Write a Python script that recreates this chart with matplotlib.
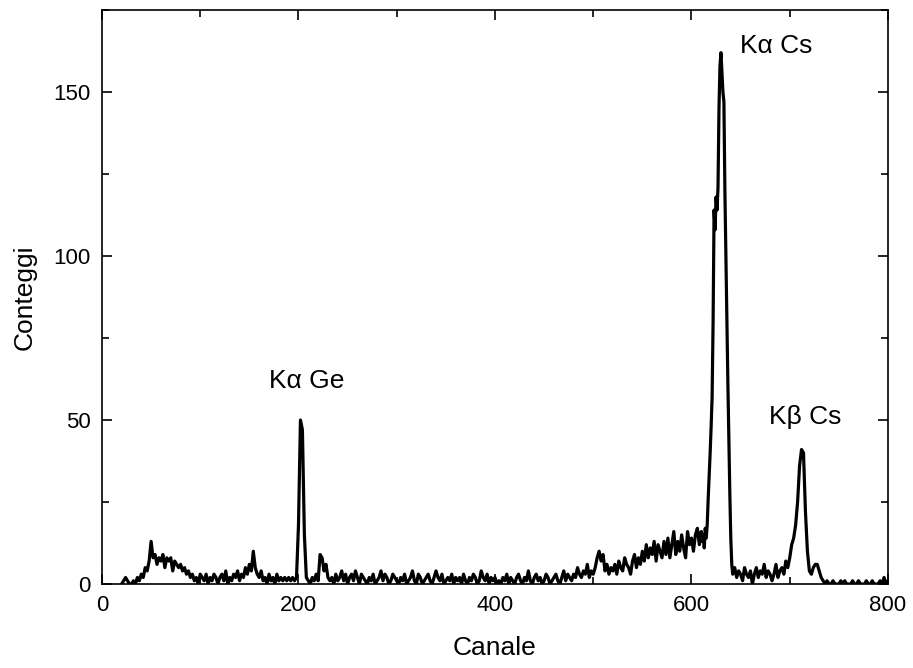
import numpy as np
import matplotlib
matplotlib.use("Agg")
import matplotlib.pyplot as plt
from matplotlib.ticker import MultipleLocator

plt.rcParams['font.family'] = ['Liberation Sans', 'DejaVu Sans']

# Spettro: conteggi, segmento per segmento
# (canale iniziale, passo, conteggi)
fondo_basso = [0, 1, 2, 1, 0, 0, 1, 0, 2, 1, 3, 2, 5,
               4, 7, 13, 8, 9, 6, 8, 7, 9, 5, 8, 7, 8, 4, 7, 6, 5, 6, 4, 5, 3, 4, 2,
               3, 1, 2, 0, 3, 2, 1, 3, 0, 2, 1, 3, 2, 0, 2, 3, 1, 4, 0, 2, 1, 3, 2, 4, 1, 3, 2, 5, 3, 6,
               4, 10, 5, 3, 2, 4, 1, 2, 0, 3, 1, 2, 0, 3, 1, 2, 1, 2, 1, 2, 1, 2, 1,
               2, 18, 50, 47, 15, 2, 1, 0, 2, 1, 3, 1, 9, 8, 4, 6, 2, 1]
fondo_medio = [2, 0, 3, 1, 2, 4, 1, 3, 0, 2, 3, 1, 4, 2, 0, 3, 2, 1, 0, 2, 1, 3, 0, 1, 2, 4, 1, 3, 2, 0, 1, 3, 2, 1,
               0, 2, 1, 3, 0, 1, 2, 4, 1, 0, 3, 2, 0, 1, 2, 3, 1, 0, 2, 4, 2, 1, 3, 0, 1, 2, 1, 3, 0, 2,
               1, 2, 0, 3, 1, 0, 2, 1, 3, 2, 0, 1, 4, 2, 1, 3, 0, 2, 1, 2,
               0, 1, 0, 2, 1, 3, 0, 2, 1, 0, 2, 3, 1, 0, 2, 1, 4, 1, 0, 2, 3, 1, 2, 0, 1, 3, 2, 0, 1, 2,
               3, 1, 0, 2, 4, 1, 3, 2, 1, 3, 2, 5, 3, 2, 4, 3, 6, 2, 4, 3,
               5, 8, 10, 7, 9, 4, 6, 3, 5, 4, 6, 3, 7, 5, 4, 8, 6, 5, 3, 7, 9, 5, 8, 6, 10, 7, 12, 8,
               11, 9, 13, 7, 12, 10, 8, 13, 9, 14, 8, 12, 16, 9, 13, 10, 15, 11, 8, 16, 12, 14, 10, 15, 17, 12, 16]
picco_ka_cs = [13, 15, 11, 17, 14, 18, 26, 33, 40, 48, 57, 80, 114, 108, 118, 114, 121, 145,
               158, 162, 156, 150, 147, 120, 100, 82, 62, 45, 28, 14, 6]
fondo_alto = [3, 5, 2, 4, 3, 1, 5, 3, 2, 4, 0, 3, 5, 2, 4, 3, 6, 2, 4, 3, 1, 3, 6, 2, 4, 5, 3, 7, 5, 8,
              12, 14, 18, 25, 36, 41, 40, 22, 10, 4, 3, 5, 6, 6, 4, 2, 1,
              0, 1, 0, 0, 1, 0, 0, 0, 1, 0, 1, 0, 0, 0, 1, 0, 0, 1, 0, 0, 0, 1, 0, 0, 1, 0, 0, 0, 1, 0, 2, 0, 1]

segmenti = [(20, 2, fondo_basso), (234, 2, fondo_medio), (611, 1, picco_ka_cs), (642, 2, fondo_alto)]

canale = np.concatenate([np.arange(s, s + p * len(v), p) for s, p, v in segmenti])
conteggi = np.concatenate([np.array(v, dtype=float) for s, p, v in segmenti])

# Etichette dei picchi
etichette = ["K\u03b1 Ge", "K\u03b1 Cs", "K\u03b2 Cs"]
pos_etichette = [(208, 62), (686, 164), (716, 51)]

fig = plt.figure(figsize=(9.13, 6.68), dpi=100)
ax = fig.add_axes([0.1117, 0.1257, 0.8609, 0.8593])

ax.plot(canale, conteggi, color='black', lw=2.3)

for testo, (x, y) in zip(etichette, pos_etichette):
    ax.text(x, y, testo, fontsize=19, ha='center', va='center')

ax.set_xlim(0, 800)
ax.set_ylim(0, 175)
ax.xaxis.set_major_locator(MultipleLocator(200))
ax.xaxis.set_minor_locator(MultipleLocator(100))
ax.yaxis.set_major_locator(MultipleLocator(50))
ax.yaxis.set_minor_locator(MultipleLocator(25))
ax.tick_params(which='both', direction='in', top=True, right=True, labelsize=16, width=1.2)
ax.tick_params(which='major', length=7, pad=8)
ax.tick_params(which='minor', length=5)
for sp in ax.spines.values():
    sp.set_linewidth(1.2)

ax.set_xlabel("Canale", fontsize=19, labelpad=14)
ax.set_ylabel("Conteggi", fontsize=19, labelpad=12)

plt.savefig("out.png", dpi=100)
